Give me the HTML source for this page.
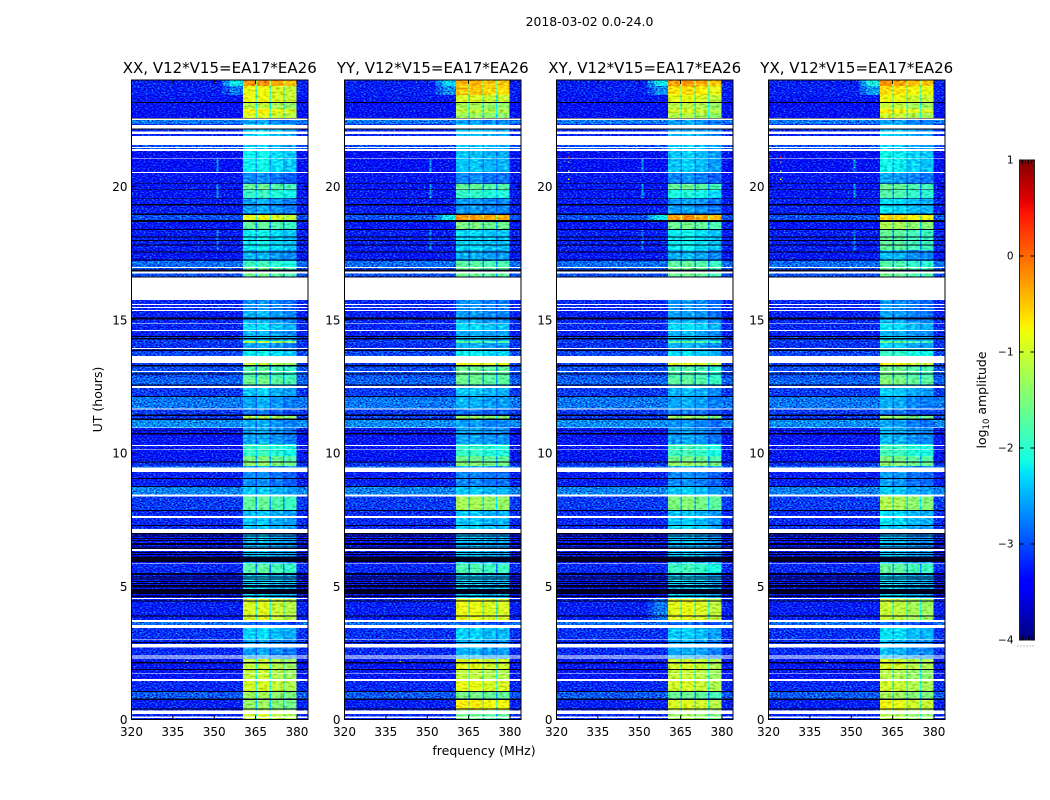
<!DOCTYPE html>
<html lang="en">
<head>
<meta charset="utf-8">
<title>2018-03-02 0.0-24.0 spectrogram</title>
<style>
html,body{margin:0;padding:0;background:#fff;}
svg{display:block;font-family:"DejaVu Sans","Liberation Sans",sans-serif;}
text{fill:#000;}
</style>
</head>
<body>
<svg id="fig" xmlns="http://www.w3.org/2000/svg" width="1050" height="800" viewBox="0 0 1050 800">
  <defs>
    <filter id="speckle" filterUnits="userSpaceOnUse" x="0" y="0" width="1050" height="800" color-interpolation-filters="sRGB">
      <feTurbulence type="fractalNoise" baseFrequency="0.5 0.8" numOctaves="1" seed="7" result="n"/>
      <feColorMatrix in="n" type="matrix" values="0.5 0 0 0 0.3  1.7 0 0 0 -0.3  1.1 0 0 0 0  0 0 0 0 1" result="tint"/>
      <feComposite in="SourceGraphic" in2="tint" operator="arithmetic" k1="0" k2="1" k3="1" k4="-0.55" result="mixed"/>
      <feComposite in="mixed" in2="SourceGraphic" operator="in"/>
    </filter>
    <filter id="speckle-soft" filterUnits="userSpaceOnUse" x="0" y="0" width="1050" height="800" color-interpolation-filters="sRGB">
      <feTurbulence type="fractalNoise" baseFrequency="0.25 0.5" numOctaves="1" seed="11" result="n"/>
      <feColorMatrix in="n" type="matrix" values="0.5 0 0 0 0.3  0.8 0 0 0 0.15  0.6 0 0 0 0.25  0 0 0 0 1" result="tint"/>
      <feComposite in="SourceGraphic" in2="tint" operator="arithmetic" k1="0" k2="1" k3="1" k4="-0.55" result="mixed"/>
      <feComposite in="mixed" in2="SourceGraphic" operator="in"/>
    </filter>
  </defs>
  <rect x="0" y="0" width="1050" height="800" fill="#fff"/>
  <text x="589.5" y="26" font-size="12.4" text-anchor="middle">2018-03-02 0.0-24.0</text>
  <text x="484" y="755" font-size="12.5" text-anchor="middle">frequency (MHz)</text>
  <text transform="translate(102,399.5) rotate(-90)" font-size="12.5" text-anchor="middle">UT (hours)</text>
  <g id="cells" filter="url(#speckle)" shape-rendering="crispEdges"></g>
  <g id="sbcells" filter="url(#speckle-soft)" shape-rendering="crispEdges"></g>
  <g id="overlay" shape-rendering="crispEdges"></g>
  <g id="axes"></g>
  <g id="cbar"></g>
  <text transform="translate(986,400) rotate(-90)" font-size="12.5" text-anchor="middle">log<tspan font-size="8.5" dy="3">10</tspan><tspan dy="-3"> amplitude</tspan></text>
</svg>
<script>
// ---------- data (UT hours, MHz, log10 amplitude) ----------
const panelNames = ['XX', 'YY', 'XY', 'YX'];
const xTickValues = [320, 335, 350, 365, 380];
const yTickValues = [0, 5, 10, 15, 20];
const colorbarTicks = [1, 0, -1, -2, -3, -4];

const bandEdges = [24,23.77,23.43,23.17,22.91,22.76,22.57,22.35,21.90,21.33,20.54,20.09,19.87,19.57,18.97,18.72,18.37,17.62,17.20,16.94,16.60,15.74,15.33,15.07,14.84,14.58,14.40,14.21,14.13,13.90,13.64,13.26,12.81,12.55,12.14,11.65,11.39,11.28,10.96,10.34,9.89,9.66,9.51,9.29,8.72,8.42,7.86,7.26,6.96,6.40,5.83,5.50,4.56,3.73,3.47,2.98,2.27,1.89,1.52,1.03,0.77,0.36,0];

const backgroundLevels = [-3.25,-3.25,-3.3,-3.35,-3.35,-3.35,-2.8,-3.2,-3.0,-3.35,-3.3,-3.3,-3.3,-3.25,-3.0,-3.3,-3.25,-3.3,-2.85,-3.0,-3.2,-3.2,-3.25,-3.2,-3.2,-3.25,-3.1,-3.1,-3.15,-3.05,-3.1,-3.0,-2.9,-3.1,-2.8,-3.1,-3.1,-2.7,-3.3,-3.3,-3.3,-3.15,-2.9,-3.25,-2.75,-3.1,-3.2,-3.2,-3.3,-3.3,-3.2,-3.3,-3.25,-2.85,-3.15,-3.2,-3.3,-3.3,-3.2,-2.95,-3.25,-3.2];

const bandLevelsXX = [-0.25,-0.85,-0.85,-1.15,-0.75,-0.95,-2.6,-2.3,-2.4,-2.2,-2.7,-1.65,-1.95,-2.55,-0.85,-1.7,-2.2,-2.5,-1.9,-1.6,-2.6,-2.65,-2.5,-2.5,-2.3,-2.5,-2.3,-1.15,-2.55,-2.2,-1.1,-1.75,-1.6,-2.4,-2.55,-2.8,-1.15,-2.55,-2.55,-1.95,-1.55,-1.35,-2.5,-2.7,-2.4,-1.7,-2.4,-2.4,-2.4,-2.4,-1.75,-2.3,-0.95,-2.85,-2.35,-2.6,-1.1,-1.1,-1.0,-1.3,-1.35,-1.0];
const bandLevelsYY = [-0.4,-0.5,-0.95,-1.25,-1.1,-1.3,-2.6,-2.4,-2.4,-2.4,-2.7,-1.65,-1.95,-2.6,-0.25,-1.5,-2.3,-2.5,-1.7,-1.6,-2.6,-2.65,-2.6,-2.5,-2.3,-2.5,-2.3,-1.7,-2.5,-2.2,-0.8,-1.6,-1.6,-2.4,-2.5,-2.8,-1.3,-2.6,-2.55,-1.95,-1.6,-1.4,-2.5,-2.7,-2.4,-1.25,-2.4,-2.3,-2.4,-2.4,-1.8,-2.3,-0.85,-2.85,-2.35,-2.5,-0.9,-1.1,-0.85,-1.55,-0.7,-1.6];
const bandLevelsXY = [-0.3,-0.65,-0.9,-1.15,-1.0,-1.2,-2.6,-2.5,-2.4,-2.4,-2.7,-1.65,-2.1,-2.6,-0.25,-1.6,-2.2,-2.5,-1.7,-1.6,-2.6,-2.65,-2.6,-2.5,-2.3,-2.5,-2.3,-1.7,-2.5,-2.3,-0.9,-1.8,-1.7,-2.5,-2.55,-2.8,-1.3,-2.65,-2.6,-1.9,-1.6,-1.3,-2.5,-2.7,-2.4,-1.5,-2.4,-2.3,-2.45,-2.4,-1.9,-2.3,-0.9,-2.85,-2.4,-2.55,-1.0,-1.1,-1.0,-1.65,-0.95,-1.3];
const bandLevelsYX = [-0.3,-0.65,-0.85,-1.1,-0.75,-1.05,-2.6,-2.4,-2.4,-2.2,-2.6,-1.65,-1.8,-2.3,-0.6,-1.25,-1.7,-2.5,-1.8,-1.6,-2.6,-2.65,-2.6,-2.5,-2.3,-2.5,-2.3,-1.6,-2.4,-1.95,-0.8,-1.6,-1.5,-2.4,-2.55,-2.8,-1.35,-2.6,-2.5,-1.9,-1.55,-1.4,-2.5,-2.65,-2.4,-1.25,-2.3,-2.4,-2.45,-2.4,-1.7,-2.3,-1.1,-2.85,-2.3,-2.5,-1.0,-1.2,-1.05,-1.3,-0.85,-1.2];

const subbandStarts = [360.4, 365.5, 370.5, 375.5];
const subbandEnds = [365, 370, 374.9, 379.8];
const subbandOffsetsXX = [0, 0.05, -0.1, -0.2];
const subbandOffsetsYY = [0, 0, -0.1, -0.1];
const subbandOffsetsXY = [0, 0.05, -0.05, -0.2];
const subbandOffsetsYX = [0.05, 0, -0.15, -0.2];

// panel index, band index, level of the shoulder just below the first sub-band
const shoulderPanels = [0,0,1,1,2,2,3,3,1,2,2];
const shoulderBands = [0,1,0,1,0,1,0,1,14,14,52];
const shoulderLevels = [-2.2,-2.8,-2.3,-2.7,-2.2,-2.7,-2.1,-2.6,-2.2,-2.2,-2.8];

const rfiTops = [21.03, 20.09, 18.37];
const rfiBottoms = [20.54, 19.57, 17.62];
const rfiLevels = [-2.6, -2.6, -2.7];

const hotPanels = [2,2,2,2,3,3,3,3,0,1,2,3];
const hotFreqs = [324.2,324.2,324.2,324.2,324.2,324.2,324.2,324.2,340,340,341,341];
const hotHours = [21.13,20.95,20.6,20.3,21.13,20.95,20.6,20.3,2.2,2.2,2.2,2.2];
const hotLevels = [0.3,-1,-1.5,-0.8,0.3,-1,-1.5,-0.8,-1.2,-1.2,-1.2,-1.2];

const whiteTops = [22.56,22.32,22.06,21.90,21.49,21.41,21.06,20.54,16.98,16.81,16.58,15.60,15.49,15.37,14.87,14.62,13.94,13.64,13.08,12.51,11.68,10.96,10.31,10.14,9.45,8.45,7.64,7.15,6.39,5.88,4.56,3.73,3.55,3.01,2.83,2.41,2.32,1.75,1.52,0.33,0.105];
const whiteBottoms = [22.50,22.18,21.97,21.56,21.44,21.33,21.03,20.51,16.94,16.73,15.74,15.56,15.45,15.33,14.84,14.58,13.91,13.37,13.04,12.45,11.64,10.94,10.27,10.11,9.29,8.36,7.57,7.00,6.33,5.85,4.53,3.65,3.44,2.98,2.71,2.37,2.28,1.72,1.45,0.20,0.056];

const blackTops = [23.17,22.58,22.18,20.12,19.89,19.56,19.34,18.99,18.74,18.41,18.12,18.0,17.83,17.57,17.27,16.89,16.62,15.08,14.39,14.32,13.89,13.30,12.99,12.58,12.14,11.44,11.29,10.86,10.76,9.69,9.06,8.76,7.86,7.30,7.00,6.90,6.81,6.74,6.62,6.49,6.44,6.29,6.21,6.11,5.50,5.37,5.29,5.20,5.12,5.05,4.90,4.65,4.46,3.90,2.91,2.15,1.89,1.07,0.79,0.42];
const blackBottoms = [23.13,22.56,22.15,20.09,19.87,19.53,19.29,18.94,18.67,18.37,18.08,17.95,17.79,17.52,17.22,16.81,16.58,15.02,14.35,14.26,13.83,13.25,12.95,12.53,12.11,11.39,11.24,10.84,10.70,9.65,9.03,8.72,7.82,7.26,6.94,6.87,6.77,6.70,6.55,6.45,6.40,6.25,6.17,5.92,5.42,5.33,5.25,5.16,5.08,4.96,4.71,4.60,4.42,3.86,2.88,2.11,1.86,1.03,0.73,0.375];

// ---------- layout and scales ----------
const bandLevelSets = [bandLevelsXX, bandLevelsYY, bandLevelsXY, bandLevelsYX];
const subbandOffsetSets = [subbandOffsetsXX, subbandOffsetsYY, subbandOffsetsXY, subbandOffsetsYX];
const panelLefts = [131.5, 344.5, 556.5, 768.5];
const PANEL_W = 176.5, PANEL_TOP = 80, PANEL_BOTTOM = 719.5;
const F_MIN = 320, F_MAX = 384, T_MAX = 24;
const LEVEL_MIN = -4, LEVEL_MAX = 1;
const SVGNS = 'http://www.w3.org/2000/svg';

function xOf(p, f) { return panelLefts[p] + (f - F_MIN) / (F_MAX - F_MIN) * PANEL_W; }
function yOf(t) { return PANEL_BOTTOM - t / T_MAX * (PANEL_BOTTOM - PANEL_TOP); }

function ramp(stops, x) {
  for (let i = 1; i < stops.length; i++) {
    if (x <= stops[i][0]) {
      const a = stops[i - 1], b = stops[i];
      return a[1] + (b[1] - a[1]) * (x - a[0]) / (b[0] - a[0]);
    }
  }
  return stops[stops.length - 1][1];
}
const jetR = [[0,0],[0.35,0],[0.66,1],[0.89,1],[1,0.5]];
const jetG = [[0,0],[0.125,0],[0.375,1],[0.64,1],[0.91,0],[1,0]];
const jetB = [[0,0.5],[0.11,1],[0.34,1],[0.65,0],[1,0]];
function colorOf(level) {
  const x = Math.max(0, Math.min(1, (level - LEVEL_MIN) / (LEVEL_MAX - LEVEL_MIN)));
  return 'rgb(' + Math.round(255 * ramp(jetR, x)) + ',' + Math.round(255 * ramp(jetG, x)) + ',' + Math.round(255 * ramp(jetB, x)) + ')';
}

function mk(tag, parent, attrs) {
  const el = document.createElementNS(SVGNS, tag);
  for (const k in attrs) el.setAttribute(k, attrs[k]);
  parent.appendChild(el);
  return el;
}
function cell(parent, p, f0, f1, t0, t1, level) {
  const x0 = xOf(p, f0), x1 = xOf(p, f1), y0 = yOf(t0), y1 = yOf(t1);
  return mk('rect', parent, { x: x0, y: y0, width: x1 - x0, height: y1 - y0, fill: colorOf(level) });
}

const cellsG = document.getElementById('cells');
const sbCellsG = document.getElementById('sbcells');
const overlayG = document.getElementById('overlay');
const axesG = document.getElementById('axes');
const cbarG = document.getElementById('cbar');

// ---------- heatmap cells ----------
panelNames.forEach(function (name, p) {
  const levels = bandLevelSets[p];
  const offsets = subbandOffsetSets[p];
  for (let b = 0; b < backgroundLevels.length; b++) {
    const t0 = bandEdges[b], t1 = bandEdges[b + 1], bg = backgroundLevels[b];

    const bgCell = cell(cellsG, p, F_MIN, F_MAX, t0, t1, bg);
    
    

    for (let s = 0; s < subbandStarts.length; s++) {
      const sbCell = cell(sbCellsG, p, subbandStarts[s], subbandEnds[s], t0, t1, levels[b] + offsets[s]);
      
      
      if (s < subbandStarts.length - 1) {
        const gapLevel = levels[b] < -1.8 ? levels[b] - 0.35 : levels[b] - 1;
        const gapCell = cell(sbCellsG, p, subbandEnds[s], subbandStarts[s + 1], t0, t1, gapLevel);
        
        
      }
    }
  }

  shoulderPanels.forEach(function (sp, i) {
    if (sp !== p) return;
    const b = shoulderBands[i];
    const shoulder = cell(cellsG, p, 355.5, 360.4, bandEdges[b], bandEdges[b + 1], shoulderLevels[i]);
    
    
    const fringe = cell(cellsG, p, 353, 355.5, bandEdges[b], bandEdges[b + 1], (shoulderLevels[i] + backgroundLevels[b]) / 2);
    
    
  });

  rfiTops.forEach(function (top, i) {
    const rfi = cell(cellsG, p, 350.8, 351.6, top, rfiBottoms[i], rfiLevels[i]);
    
    
  });

  hotPanels.forEach(function (hp, i) {
    if (hp !== p) return;
    const hot = cell(overlayG, p, hotFreqs[i], hotFreqs[i] + 0.5, hotHours[i], hotHours[i] - 0.05, hotLevels[i]);
    
    
  });

  // flagged rows: white = no data, black = zero amplitude
  whiteTops.forEach(function (top, i) {
    const y0 = yOf(top), y1 = yOf(whiteBottoms[i]);
    const row = mk('rect', overlayG, { x: panelLefts[p], y: y0, width: PANEL_W, height: y1 - y0, fill: '#fff' });
    
    
  });
  blackTops.forEach(function (top, i) {
    const y0 = yOf(top), y1 = yOf(blackBottoms[i]);
    const row = mk('rect', overlayG, { x: panelLefts[p], y: y0, width: PANEL_W, height: y1 - y0, fill: '#00001e' });
    
    
  });

  // ---------- axes ----------
  const left = panelLefts[p];
  const frame = mk('rect', axesG, { x: left, y: PANEL_TOP, width: PANEL_W, height: PANEL_BOTTOM - PANEL_TOP, fill: 'none', stroke: '#000', 'stroke-width': 1 });
  
  

  const title = mk('text', axesG, { x: left + PANEL_W / 2, y: 73, 'font-size': 15, 'text-anchor': 'middle' });
  title.textContent = name + ', V12*V15=EA17*EA26';
  
  

  xTickValues.forEach(function (v) {
    const x = xOf(p, v);
    const bottomTick = mk('line', axesG, { x1: x, x2: x, y1: PANEL_BOTTOM, y2: PANEL_BOTTOM - 4, stroke: '#000', 'stroke-width': 1 });
    
    
    const topTick = mk('line', axesG, { x1: x, x2: x, y1: PANEL_TOP, y2: PANEL_TOP + 4, stroke: '#000', 'stroke-width': 1 });
    
    
    const label = mk('text', axesG, { x: x, y: 736, 'font-size': 12, 'text-anchor': 'middle' });
    label.textContent = v;
    
    
  });

  yTickValues.forEach(function (v) {
    const y = yOf(v);
    const leftTick = mk('line', axesG, { x1: left, x2: left + 4, y1: y, y2: y, stroke: '#000', 'stroke-width': 1 });
    
    
    const rightTick = mk('line', axesG, { x1: left + PANEL_W, x2: left + PANEL_W - 4, y1: y, y2: y, stroke: '#000', 'stroke-width': 1 });
    
    
    const label = mk('text', axesG, { x: left - 4, y: y + 4.5, 'font-size': 12, 'text-anchor': 'end' });
    label.textContent = v;
    
    
  });
});

// ---------- colorbar ----------
const CB_X = 1019.5, CB_W = 15, CB_TOP = 160, CB_BOTTOM = 640;
function cbY(level) { return CB_BOTTOM - (level - LEVEL_MIN) / (LEVEL_MAX - LEVEL_MIN) * (CB_BOTTOM - CB_TOP); }
for (let i = 0; i < 256; i++) {
  const lo = LEVEL_MIN + (LEVEL_MAX - LEVEL_MIN) * i / 256;
  const hi = LEVEL_MIN + (LEVEL_MAX - LEVEL_MIN) * (i + 1) / 256;
  const swatch = mk('rect', cbarG, { x: CB_X, y: cbY(hi), width: CB_W, height: cbY(lo) - cbY(hi) + 0.5, fill: colorOf(lo), 'shape-rendering': 'crispEdges' });
  
  
}
const cbFrame = mk('rect', cbarG, { x: CB_X, y: CB_TOP, width: CB_W, height: CB_BOTTOM - CB_TOP, fill: 'none', stroke: '#222', 'stroke-width': 1 });


colorbarTicks.forEach(function (v) {
  const y = cbY(v);
  const tickL = mk('line', cbarG, { x1: CB_X, x2: CB_X + 4, y1: y, y2: y, stroke: '#000', 'stroke-width': 1 });
  
  
  const tickR = mk('line', cbarG, { x1: CB_X + CB_W, x2: CB_X + CB_W - 4, y1: y, y2: y, stroke: '#000', 'stroke-width': 1 });
  
  
  const label = mk('text', cbarG, { x: 1013.5, y: y + 3.5, 'font-size': 10.5, 'text-anchor': 'end' });
  label.textContent = String(v).replace('-', '\u2212');
  
  
});
for (let i = 1; i < 5; i++) {
  const xm = CB_X + CB_W * i / 5;
  const topMinor = mk('line', cbarG, { x1: xm, x2: xm, y1: CB_TOP, y2: CB_TOP + 4, stroke: '#000', 'stroke-width': 1 });
  
  
  const bottomMinor = mk('line', cbarG, { x1: xm, x2: xm, y1: CB_BOTTOM, y2: CB_BOTTOM - 4, stroke: '#000', 'stroke-width': 1 });
  
  
}
const cbDots = mk('line', cbarG, { x1: 1017.5, x2: 1034.5, y1: 646, y2: 646, stroke: '#888', 'stroke-width': 1, 'stroke-dasharray': '1 2' });


</script>
</body>
</html>
